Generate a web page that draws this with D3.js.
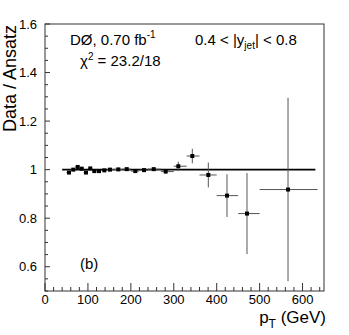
<!DOCTYPE html>
<html>
<head>
<meta charset="utf-8">
<script src="https://cdn.jsdelivr.net/npm/d3@7"></script>
<style>
  body { margin: 0; background: #fff; }
  text { font-family: "Liberation Sans", Arial, sans-serif; fill: #000; }
</style>
</head>
<body>
<div id="chart"></div>
<script>
// valeurs
const ptLow    = [50, 60, 70, 80, 90, 100, 110, 120, 130, 145, 160, 180, 200, 220, 240, 270, 300, 330, 360, 400, 450, 500];
const ptHigh   = [60, 70, 80, 90, 100, 110, 120, 130, 145, 160, 180, 200, 220, 240, 270, 300, 330, 360, 400, 450, 500, 635];
const ptCenter = [55.9, 65.9, 76.2, 85.5, 95.5, 105.5, 114.9, 125.8, 138.2, 151.4, 170.8, 190.4, 210.4, 230.7, 253.3, 281.2, 310.6, 343.2, 380.5, 424, 470.6, 566.2];
const ratio    = [0.988, 1.000, 1.011, 1.004, 0.988, 1.005, 0.994, 0.994, 0.997, 1.000, 1.001, 1.002, 0.994, 0.998, 1.002, 0.992, 1.014, 1.056, 0.978, 0.893, 0.819, 0.918];
const ratioErr = [0.004, 0.004, 0.004, 0.004, 0.004, 0.004, 0.004, 0.004, 0.004, 0.004, 0.004, 0.005, 0.005, 0.006, 0.006, 0.008, 0.019, 0.030, 0.051, 0.088, 0.167, 0.378];

const xTicks = [0, 100, 200, 300, 400, 500, 600];
const yTicks = [0.6, 0.8, 1, 1.2, 1.4, 1.6];

const margin = { top: 24, right: 25, bottom: 44, left: 45 },
  width = 349,
  height = 335;

const svg = d3.select("#chart")
  .append("svg")
  .attr("width", width)
  .attr("height", height);

const x = d3.scaleLinear().domain([0, 650]).range([margin.left, width - margin.right]);
const y = d3.scaleLinear().domain([0.5, 1.6]).range([height - margin.bottom, margin.top]);

// ligne de reference a 1
svg.append("line")
  .attr("x1", x(40)).attr("x2", x(630))
  .attr("y1", y(1)).attr("y2", y(1))
  .attr("stroke", "#000")
  .attr("stroke-width", 1.8);

const pts = d3.range(ratio.length);

// barres d'erreur
const bars = svg.append("g").attr("stroke", "#555").attr("stroke-width", 1);
bars.selectAll(".ex")
  .data(pts)
  .join("line")
  .attr("x1", i => x(ptLow[i])).attr("x2", i => x(ptHigh[i]))
  .attr("y1", i => y(ratio[i])).attr("y2", i => y(ratio[i]));
bars.selectAll(".ey")
  .data(pts)
  .join("line")
  .attr("x1", i => x(ptCenter[i])).attr("x2", i => x(ptCenter[i]))
  .attr("y1", i => y(Math.max(0.5, ratio[i] - ratioErr[i])))
  .attr("y2", i => y(ratio[i] + ratioErr[i]));

// marqueurs
svg.append("g")
  .selectAll("rect")
  .data(pts)
  .join("rect")
  .attr("x", i => x(ptCenter[i]) - 2)
  .attr("y", i => y(ratio[i]) - 2)
  .attr("width", 4)
  .attr("height", 4)
  .attr("fill", "#000");

// axes
const xAxis = svg.append("g")
  .attr("transform", "translate(0," + (height - margin.bottom) + ")");
xAxis.selectAll(".mtick")
  .data(d3.range(0, 651, 20))
  .join("line")
  .attr("x1", d => x(d)).attr("x2", d => x(d))
  .attr("y1", 0).attr("y2", d => d % 100 === 0 ? -8 : -4)
  .attr("stroke", "#333");
xAxis.selectAll(".lbl")
  .data(xTicks)
  .join("text")
  .attr("x", d => x(d))
  .attr("y", 13)
  .attr("text-anchor", "middle")
  .style("font-size", "13px")
  .text(d => d);

const yAxis = svg.append("g")
  .attr("transform", "translate(" + margin.left + ",0)");
yAxis.selectAll(".mtick")
  .data(d3.range(10, 33).map(d => d * 0.05))
  .join("line")
  .attr("x1", 0)
  .attr("x2", d => Math.abs(d * 5 - Math.round(d * 5)) < 1e-6 ? 5 : 3)
  .attr("y1", d => y(d)).attr("y2", d => y(d))
  .attr("stroke", "#333");
yAxis.selectAll(".lbl")
  .data(yTicks)
  .join("text")
  .attr("x", -8)
  .attr("y", d => y(d) + 4.5)
  .attr("text-anchor", "end")
  .style("font-size", "13px")
  .text(d => d3.format("")(d));

// cadre
svg.append("rect")
  .attr("x", margin.left).attr("y", margin.top)
  .attr("width", width - margin.left - margin.right)
  .attr("height", height - margin.top - margin.bottom)
  .attr("fill", "none")
  .attr("stroke", "#333")
  .attr("stroke-width", 1);

// titres des axes
svg.append("text")
  .attr("transform", "translate(16," + (margin.top + 1) + ") rotate(-90)")
  .attr("text-anchor", "end")
  .style("font-size", "18px")
  .text("Data / Ansatz");

const xt = svg.append("text")
  .attr("x", width - margin.right + 2)
  .attr("y", 322.5)
  .attr("text-anchor", "end")
  .style("font-size", "17px");
xt.append("tspan").text("p");
xt.append("tspan").attr("dy", 5).style("font-size", "12px").text("T");
xt.append("tspan").attr("dy", -5).text(" (GeV)");

// textes dans le cadre
const t1 = svg.append("text").attr("x", 70).attr("y", 45).style("font-size", "15px");
t1.append("tspan").text("DØ, 0.70 fb");
t1.append("tspan").attr("dy", -7).style("font-size", "10px").text("-1");

const t2 = svg.append("text").attr("x", 80).attr("y", 66).style("font-size", "15px");
t2.append("tspan").text("χ");
t2.append("tspan").attr("dy", -6).style("font-size", "10px").text("2");
t2.append("tspan").attr("dy", 6).text(" = 23.2/18");

const t3 = svg.append("text").attr("x", 195).attr("y", 45).style("font-size", "15px");
t3.append("tspan").text("0.4 < |y");
t3.append("tspan").attr("dy", 4).style("font-size", "10px").text("jet");
t3.append("tspan").attr("dy", -4).text("| < 0.8");

svg.append("text")
  .attr("x", 80).attr("y", 269)
  .style("font-size", "15px")
  .text("(b)");
</script>
</body>
</html>
